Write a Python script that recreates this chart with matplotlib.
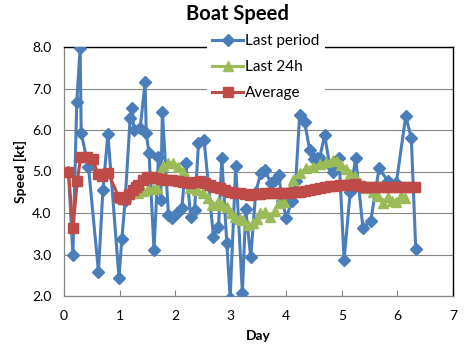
import matplotlib
matplotlib.use("Agg")
import matplotlib.pyplot as plt
from matplotlib.ticker import FormatStrFormatter

plt.rcParams['font.family'] = ['Lato', 'DejaVu Sans']

# ---- data ----
blue_x = [0.08, 0.16, 0.23, 0.29, 0.31, 0.44, 0.62, 0.70, 0.79, 0.99, 1.04, 1.10,
          1.19, 1.22, 1.26, 1.37, 1.46, 1.48, 1.53, 1.62, 1.70, 1.74, 1.77, 1.88,
          1.95, 2.04, 2.12, 2.19, 2.28, 2.35, 2.42, 2.52, 2.69, 2.78, 2.84, 2.93,
          2.99, 3.09, 3.21, 3.27, 3.36, 3.45, 3.54, 3.62, 3.72, 3.79, 3.86, 3.93,
          4.00, 4.10, 4.17, 4.24, 4.33, 4.42, 4.49, 4.55, 4.60, 4.69, 4.78, 4.84,
          4.90, 4.95, 5.04, 5.15, 5.25, 5.38, 5.52, 5.67, 5.83, 5.98, 6.15, 6.25,
          6.33]
blue_y = [5.00, 2.99, 6.68, 7.97, 5.92, 5.12, 2.59, 4.55, 5.90, 2.43, 3.37, 4.30,
          6.28, 6.52, 6.00, 6.04, 7.16, 5.92, 5.44, 3.11, 5.36, 4.31, 6.44, 3.95,
          3.87, 4.00, 4.11, 5.20, 3.91, 4.07, 5.68, 5.76, 3.43, 3.67, 5.32, 3.27,
          1.95, 5.13, 2.07, 4.09, 2.93, 4.50, 4.96, 5.04, 4.72, 4.80, 4.92, 4.30,
          3.87, 4.30, 4.76, 6.36, 6.20, 5.52, 5.30, 5.32, 5.32, 5.88, 5.16, 5.00,
          5.20, 5.32, 2.87, 4.50, 5.32, 3.63, 3.81, 5.08, 4.76, 4.72, 6.34, 5.80,
          3.13]

green_x = [1.00, 1.08, 1.17, 1.26, 1.34, 1.43, 1.52, 1.60, 1.67, 1.72, 1.79, 1.88,
           1.97, 2.06, 2.15, 2.21, 2.27, 2.39, 2.51, 2.59, 2.66, 2.78, 2.85, 2.93,
           3.00, 3.08, 3.17, 3.23, 3.31, 3.40, 3.47, 3.53, 3.62, 3.71, 3.79, 3.86,
           3.95, 4.03, 4.12, 4.24, 4.36, 4.48, 4.60, 4.72, 4.84, 4.92, 4.99, 5.08,
           5.15, 5.23, 5.32, 5.44, 5.56, 5.65, 5.74, 5.83, 5.91, 5.98, 6.06, 6.13]
green_y = [4.36, 4.40, 4.45, 4.50, 4.47, 4.52, 4.57, 4.58, 4.60, 5.00, 5.14, 5.20,
           5.21, 5.12, 5.00, 4.85, 4.60, 4.55, 4.47, 4.35, 4.19, 4.27, 4.20, 4.15,
           4.00, 3.91, 3.85, 3.83, 3.70, 3.75, 3.85, 3.99, 4.03, 3.91, 4.05, 4.23,
           4.27, 4.50, 4.80, 4.96, 5.08, 5.12, 5.17, 5.22, 5.28, 5.25, 5.16, 5.05,
           4.95, 4.88, 4.72, 4.60, 4.51, 4.40, 4.23, 4.39, 4.30, 4.27, 4.40, 4.35]

red_x = [0.08, 0.16, 0.24, 0.30, 0.41, 0.52, 0.61, 0.69, 0.79, 0.99, 1.06, 1.10,
         1.17, 1.25, 1.30, 1.34, 1.43, 1.50, 1.58, 1.66, 1.75, 1.85, 1.95, 2.06,
         2.15, 2.27, 2.36, 2.45, 2.54, 2.63, 2.72, 2.81, 2.90, 2.99, 3.08, 3.17,
         3.26, 3.35, 3.44, 3.53, 3.62, 3.71, 3.80, 3.88, 3.97, 4.06, 4.15, 4.24,
         4.33, 4.42, 4.51, 4.60, 4.69, 4.78, 4.87, 4.96, 5.05, 5.14, 5.23, 5.32,
         5.41, 5.50, 5.59, 5.68, 5.77, 5.86, 5.95, 6.04, 6.13, 6.22, 6.31]
red_y = [5.00, 3.64, 4.77, 5.36, 5.35, 5.30, 4.94, 4.90, 4.97, 4.38, 4.33, 4.33,
         4.45, 4.55, 4.62, 4.67, 4.80, 4.86, 4.86, 4.85, 4.83, 4.80, 4.79, 4.77,
         4.74, 4.72, 4.74, 4.78, 4.72, 4.67, 4.63, 4.60, 4.55, 4.51, 4.49, 4.47,
         4.45, 4.43, 4.45, 4.46, 4.47, 4.47, 4.47, 4.47, 4.48, 4.49, 4.50, 4.51,
         4.53, 4.55, 4.57, 4.60, 4.62, 4.64, 4.66, 4.67, 4.67, 4.68, 4.69, 4.65,
         4.63, 4.62, 4.62, 4.62, 4.62, 4.62, 4.62, 4.62, 4.62, 4.63, 4.63]

series_labels = ["Last period", "Last 24h", "Average"]
title = "Boat Speed"
x_label = "Day"
y_label = "Speed [kt]"
x_ticks = [0, 1, 2, 3, 4, 5, 6, 7]
y_ticks = [2.0, 3.0, 4.0, 5.0, 6.0, 7.0, 8.0]

# ---- figure ----
W, H = 473, 347
fig = plt.figure(figsize=(W / 100, H / 100), dpi=100)
ax = fig.add_axes([64 / W, 1 - 296 / H, (453 - 64) / W, (296 - 47) / H])

blue = '#4A7EBB'
green = '#9BBB59'
red = '#BE4B48'

ax.plot(blue_x, blue_y, color=blue, lw=2.2, marker='D', ms=5.8,
        label=series_labels[0], zorder=3)
ax.plot(green_x, green_y, color=green, lw=2.2, marker='^', ms=7.5,
        label=series_labels[1], zorder=4)
ax.plot(red_x, red_y, color=red, lw=2.2, marker='s', ms=7,
        label=series_labels[2], zorder=5)

ax.set_xlim(0, 7)
ax.set_ylim(2.0, 8.0)
ax.set_xticks(x_ticks)
ax.set_yticks(y_ticks)
ax.yaxis.set_major_formatter(FormatStrFormatter('%.1f'))
ax.grid(axis='y', color='#868686', lw=0.8, zorder=0)
ax.set_axisbelow(True)

ax.tick_params(axis='x', direction='in', length=4, width=0.8, color='#868686',
               labelsize=10, pad=10)
ax.tick_params(axis='y', length=0, labelsize=10, pad=9)

for s in ['left', 'bottom']:
    ax.spines[s].set_color('#868686')
    ax.spines[s].set_linewidth(0.9)
for s in ['top', 'right']:
    ax.spines[s].set_color('black')
    ax.spines[s].set_linewidth(1.0)

fig.text(237 / W, 1 - 14 / H, title, fontsize=14.5, fontweight='bold',
         ha='center', va='center')
ax.set_xlabel(x_label, fontsize=10, fontweight='bold', labelpad=6)
ax.set_ylabel(y_label, fontsize=10, fontweight='bold', labelpad=4)

leg = ax.legend(loc='upper left', bbox_to_anchor=(207 / W, 1 - 29 / H),
                bbox_transform=fig.transFigure, frameon=True, fancybox=False,
                facecolor='white', edgecolor='none', framealpha=1,
                fontsize=11, handlelength=2.0, handletextpad=0.15,
                labelspacing=0.78, borderpad=0.35, borderaxespad=0)
leg.set_zorder(10)

fig.savefig('out.png', dpi=100)
